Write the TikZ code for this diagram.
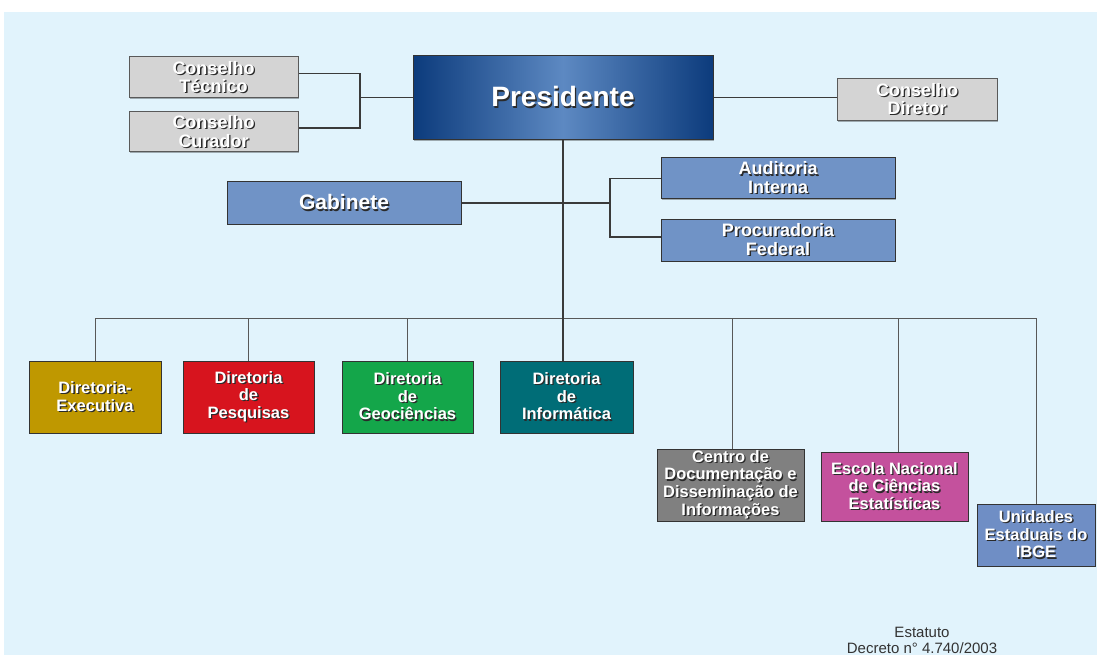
\documentclass[tikz,border=0pt]{standalone}
\usepackage{fontspec}
\setmainfont{Liberation Sans}
\usetikzlibrary{shadows}
\definecolor{bg}{HTML}{E1F3FC}
\definecolor{consfill}{HTML}{D4D4D4}
\definecolor{pdark}{HTML}{0C3B7C}
\definecolor{plight}{HTML}{5D89C2}
\definecolor{midblue}{HTML}{7093C6}
\definecolor{execc}{HTML}{BF9800}
\definecolor{pesqc}{HTML}{D7141E}
\definecolor{geoc}{HTML}{14A64A}
\definecolor{infoc}{HTML}{006D77}
\definecolor{centc}{HTML}{808080}
\definecolor{escc}{HTML}{C4519D}
\definecolor{unic}{HTML}{6F8EC5}
\definecolor{shc}{HTML}{2A2A2A}
\definecolor{linec}{HTML}{3A3A3A}
\newcommand\sh[1]{\leavevmode\rlap{\hspace{1.3pt}\raisebox{-1.3pt}{\textcolor{shc}{#1}}}#1}
\begin{document}
\begin{tikzpicture}[x=1pt,y=-1pt,
  box/.style={draw=black!80, line width=1pt, inner sep=0pt, align=center, text=white,
    font=\bfseries\fontsize{16.5}{17.6}\selectfont,
    drop shadow={shadow xshift=1.2pt, shadow yshift=-1.2pt, opacity=0.3, fill=black}},
  cons/.style={box, fill=consfill, draw=black!65, font=\bfseries\fontsize{18}{18.5}\selectfont},
  blue/.style={box, fill=midblue, font=\bfseries\fontsize{18}{18.8}\selectfont},
  conn/.style={draw=linec, line width=1.1pt},
  busline/.style={draw=linec!85, line width=0.9pt},
  foot/.style={align=center, text=black!80, font=\fontsize{15}{16}\selectfont, inner sep=0pt}]
\useasboundingbox (0,0) rectangle (1097,655);
\fill[white] (0,0) rectangle (1097,655);
\fill[bg] (4,12) rectangle (1097,655);

% top level
\node[cons, minimum width=169pt, minimum height=41pt] (ct) at (213.5,77.5) {\sh{Conselho}\\\sh{Técnico}};
\node[cons, minimum width=169pt, minimum height=40pt] (cc) at (213.5,132) {\sh{Conselho}\\\sh{Curador}};
\node[box, minimum width=300pt, minimum height=84pt, left color=pdark, right color=pdark, middle color=plight,
  font=\bfseries\fontsize{28}{30}\selectfont] (pres) at (563,97.5) {\sh{Presidente}};
\node[cons, minimum width=160pt, minimum height=42pt] (cd) at (917,99.5) {\sh{Conselho}\\\sh{Diretor}};

\coordinate (brk) at (360,97.5);
\draw[conn] ([yshift=4pt]ct.east) -| (brk) |- ([yshift=4pt]cc.east);
\draw[conn] (brk) -- (pres.west);
\draw[conn] (pres.east) -- (pres.east -| cd.west);

% second level
\node[blue, minimum width=234pt, minimum height=42pt, font=\bfseries\fontsize{21}{22}\selectfont] (gab) at (344,203) {\sh{Gabinete}};
\node[blue, minimum width=234pt, minimum height=41pt] (aud) at (778,178.5) {\sh{Auditoria}\\\sh{Interna}};
\node[blue, minimum width=234pt, minimum height=42pt] (proc) at (778,240) {\sh{Procuradoria}\\\sh{Federal}};

\coordinate (gbr) at (610,203);
\draw[conn] (gab.east) -- (gbr);
\draw[conn] (aud.west) -| (gbr) |- ([yshift=3pt]proc.west);

% bottom level
\node[box, fill=execc, minimum width=132pt, minimum height=72pt] (exec) at (95,397) {\sh{Diretoria-}\\\sh{Executiva}};
\node[box, fill=pesqc, minimum width=131pt, minimum height=72pt] (pesq) at (248.5,397) {\sh{Diretoria}\\\sh{de}\\\sh{Pesquisas}};
\node[box, fill=geoc, minimum width=131pt, minimum height=72pt] (geo) at (407.5,397) {\sh{Diretoria}\\\sh{de}\\\sh{Geociências}};
\node[box, fill=infoc, minimum width=133pt, minimum height=72pt] (info) at (566.5,397) {\sh{Diretoria}\\\sh{de}\\\sh{Informática}};
\node[box, fill=centc, minimum width=147pt, minimum height=72pt] (cent) at (730.5,485) {\sh{Centro de}\\\sh{Documentação e}\\\sh{Disseminação de}\\\sh{Informações}};
\node[box, fill=escc, minimum width=147pt, minimum height=69pt] (esc) at (894.5,486.5) {\sh{Escola Nacional}\\\sh{de Ciências}\\\sh{Estatísticas}};
\node[box, fill=unic, minimum width=118pt, minimum height=62pt] (uni) at (1036,535) {\sh{Unidades}\\\sh{Estaduais do}\\\sh{IBGE}};

\coordinate (busl) at (95,318);
\coordinate (busr) at (1036,318);
\draw[busline] (busl) -- (busr);
\draw[conn] (pres.south) -- (pres.south |- info.north);
\draw[busline] (exec.north) -- (exec.north |- busl);
\draw[busline] (pesq.north) -- (pesq.north |- busl);
\draw[busline] (geo.north) -- (geo.north |- busl);
\draw[busline] ([xshift=1.5pt]cent.north) -- ([xshift=1.5pt]cent.north |- busl);
\draw[busline] ([xshift=3.5pt]esc.north) -- ([xshift=3.5pt]esc.north |- busl);
\draw[busline] (uni.north) -- (uni.north |- busr);

\node[foot] (est) at (922,640) {Estatuto\\Decreto n° 4.740/2003};
\end{tikzpicture}
\end{document}
